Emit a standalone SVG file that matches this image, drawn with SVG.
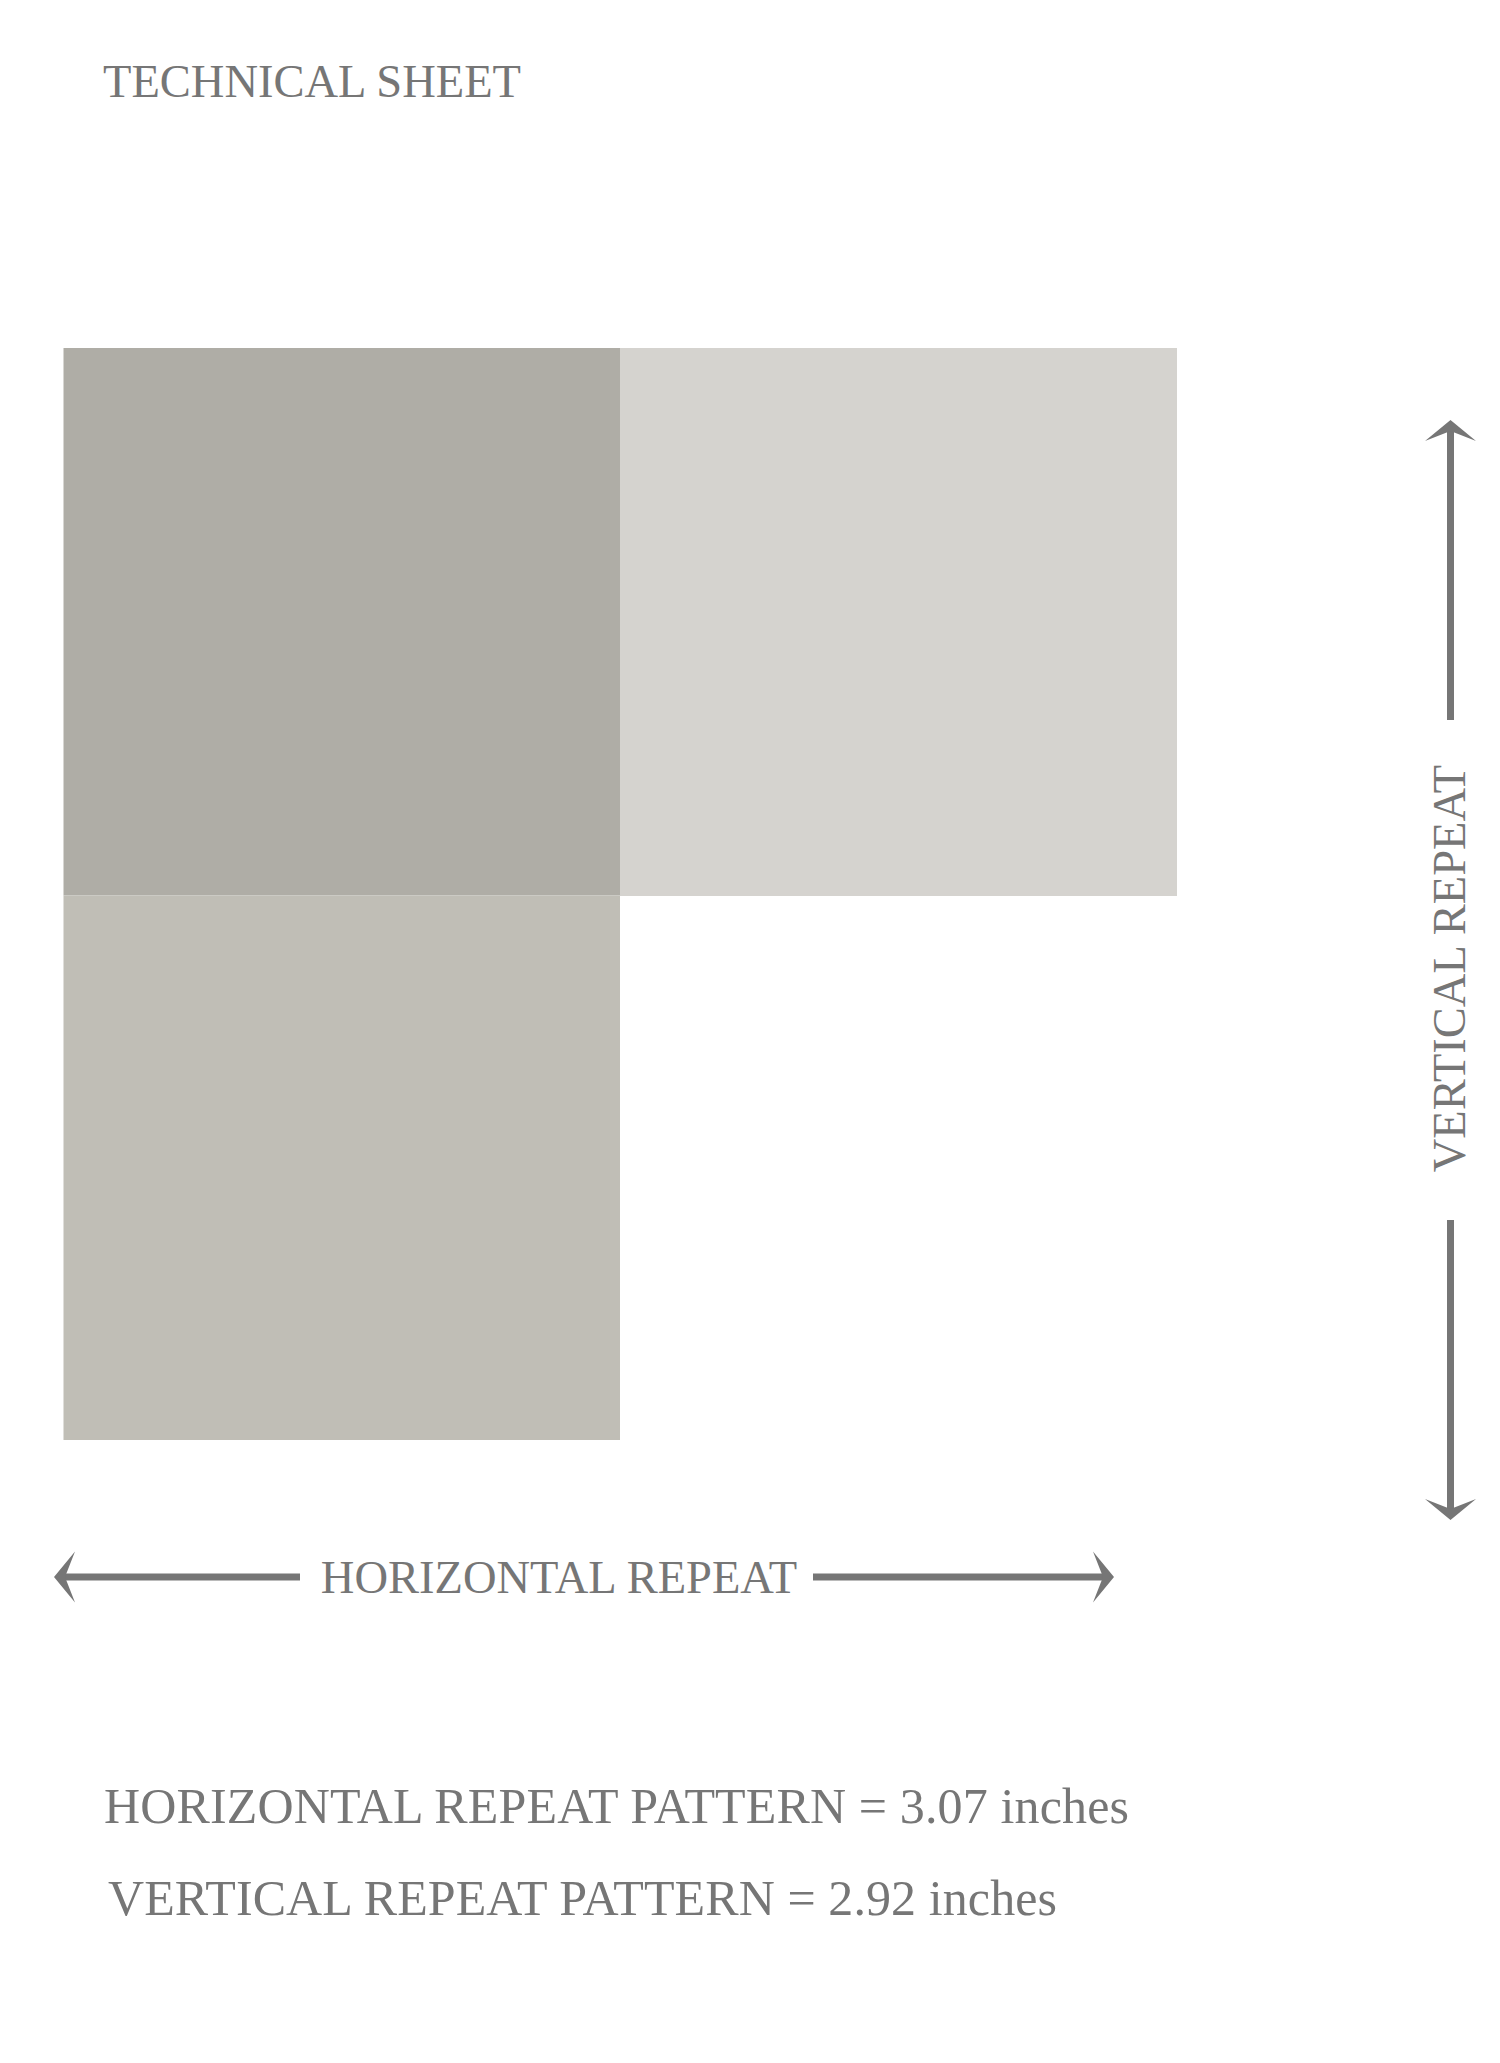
<svg xmlns="http://www.w3.org/2000/svg" width="1500" height="2063" viewBox="0 0 1500 2063">
  <style>
    .t { font-family: "Liberation Serif", "Times New Roman", serif; fill: #767676; }
    .lbl { font-size: 46.5px; }
    .info { font-size: 50px; }
    .arr { stroke: #767676; stroke-width: 7; fill: none; }
  </style>
  <defs>
    <marker id="head" viewBox="0 -26 22 52" refX="10" refY="0" markerWidth="22" markerHeight="52" markerUnits="userSpaceOnUse" orient="auto-start-reverse">
      <path d="M21,0 L0,-25.5 L10,0 L0,25.5 Z" fill="#767676"/>
    </marker>
  </defs>
  <rect width="1500" height="2063" fill="#ffffff"/>
  <g id="title">
    <text class="t lbl" x="103" y="97">TECHNICAL SHEET</text>
  </g>
  <g id="tile-dark">
    <rect x="63.5" y="348" width="556.5" height="547.5" fill="#afada6"/>
  </g>
  <g id="tile-light">
    <rect x="620" y="348" width="557" height="548" fill="#d5d3cf"/>
  </g>
  <g id="tile-mid">
    <rect x="63.5" y="895.5" width="556.5" height="544.5" fill="#c0beb6"/>
  </g>
  <g id="connectors">
    <line class="arr" x1="1450.5" y1="720" x2="1450.5" y2="431" marker-end="url(#head)"/>
    <line class="arr" x1="1450.5" y1="1220" x2="1450.5" y2="1509" marker-end="url(#head)"/>
    <line class="arr" x1="300" y1="1577" x2="65" y2="1577" marker-end="url(#head)"/>
    <line class="arr" x1="813" y1="1577" x2="1103" y2="1577" marker-end="url(#head)"/>
  </g>
  <g id="label-vertical">
    <text class="t lbl" text-anchor="middle" transform="translate(1465,968.5) rotate(-90)">VERTICAL REPEAT</text>
  </g>
  <g id="label-horizontal">
    <text class="t lbl" text-anchor="middle" x="559" y="1593">HORIZONTAL REPEAT</text>
  </g>
  <g id="info">
    <text class="t info" x="104" y="1823" textLength="1025" lengthAdjust="spacing">HORIZONTAL REPEAT PATTERN = 3.07 inches</text>
    <text class="t info" x="108" y="1915" textLength="949" lengthAdjust="spacing">VERTICAL REPEAT PATTERN = 2.92 inches</text>
  </g>
</svg>
